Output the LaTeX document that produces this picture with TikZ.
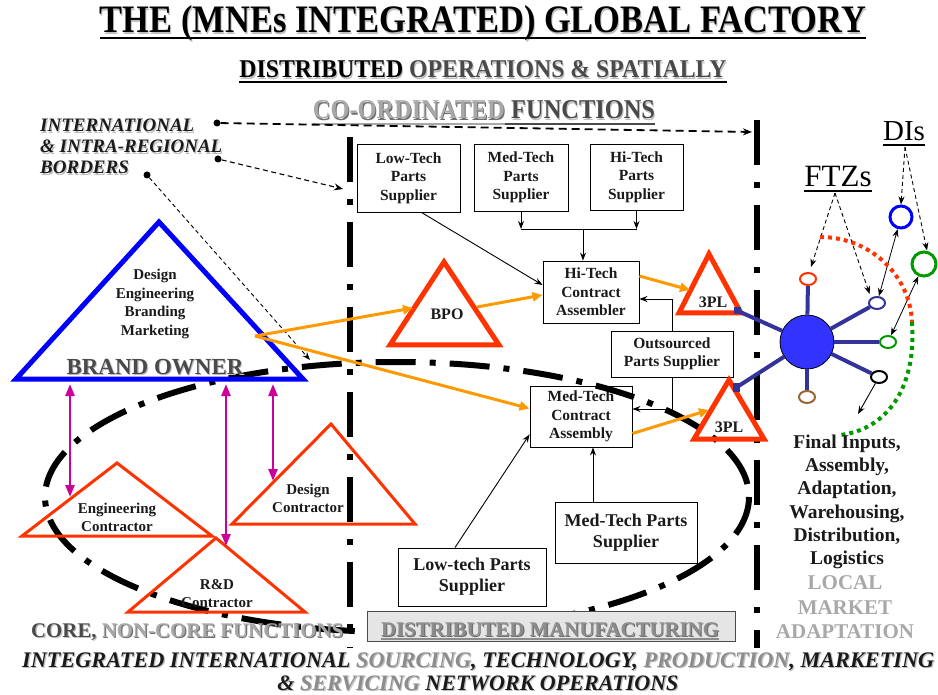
\documentclass[tikz,border=0pt]{standalone}
\usepackage{fontspec}
\setmainfont{Liberation Serif}
\usepackage{graphicx}
\usetikzlibrary{arrows.meta,calc,shapes.geometric}
\definecolor{redo}{HTML}{FF3300}
\definecolor{orng}{HTML}{FF9900}
\definecolor{mag}{HTML}{CC0099}
\definecolor{hubblue}{HTML}{3333FF}
\definecolor{spokec}{HTML}{333399}
\definecolor{grn}{HTML}{009900}
\definecolor{brn}{HTML}{996633}
\definecolor{ltgray}{HTML}{A8A8A8}
\definecolor{midgray}{HTML}{8C8C8C}
\definecolor{dkgray}{HTML}{4A4A4A}
\definecolor{txtc}{HTML}{1A1A1A}
\definecolor{shgray}{HTML}{BEBEBE}
\definecolor{shdark}{HTML}{707070}
\newcommand{\shtx}[3]{\leavevmode\rlap{\kern1.1pt\raisebox{-1.1pt}{\textcolor{#2}{#3}}}\textcolor{#1}{#3}}
\tikzset{
  box/.style={draw=black, line width=0.9pt, fill=white, inner sep=0pt, align=center,
    font=\fontsize{15.5}{18.5}\selectfont\bfseries, text=txtc},
  bigbox/.style={box, font=\fontsize{18}{21}\selectfont\bfseries},
  tritext/.style={align=center, inner sep=0pt, font=\fontsize{15}{18.5}\selectfont\bfseries, text=txtc},
  redtri/.style={draw=redo, line width=5pt, line join=miter, miter limit=20},
  redtrithin/.style={draw=redo, line width=3pt, line join=miter, miter limit=20},
  bluetri/.style={draw=blue, line width=5pt, line join=miter, miter limit=20},
  vdash/.style={line width=6pt, dash pattern=on 45pt off 17pt on 6pt off 17pt},
  bigell/.style={line width=6pt, dash pattern=on 40pt off 14pt on 6pt off 14pt},
  arr/.style={line width=0.9pt, -{Stealth[length=8pt,width=6pt]}},
  oarr/.style={draw=orng, line width=3pt, -{Triangle[length=10pt,width=9pt]}},
  marr/.style={draw=mag, line width=2.5pt, {Triangle[length=12pt,width=9pt]}-{Triangle[length=12pt,width=9pt]}},
  dotn/.style={circle, fill=black, inner sep=0pt, minimum size=7pt},
  dsh/.style={line width=0.9pt, dash pattern=on 4pt off 3pt, -{Stealth[length=8pt,width=6pt]}},
  darr/.style={line width=0.8pt, {Stealth[length=8pt,width=6pt]}-{Stealth[length=8pt,width=6pt]}},
  spk/.style={draw=spokec, line width=4pt},
  smallc/.style={ellipse, fill=white, line width=2pt, minimum width=16pt, minimum height=12pt, inner sep=0pt},
  lbl/.style={anchor=base west, inner sep=0pt, font=\fontsize{19}{21}\selectfont\bfseries\itshape},
}
\begin{document}
\begin{tikzpicture}[x=1pt,y=-1pt]
\useasboundingbox (0,0) rectangle (938,695);

% ---------- titles
\node[anchor=base, inner sep=0pt] (title) at (483,33)
  {\resizebox{766pt}{27pt}{\fontsize{40}{40}\selectfont\bfseries\shtx{black}{shgray}{THE (MNEs INTEGRATED) GLOBAL FACTORY}}};
\draw[line width=2pt] ($(title.base west)+(0,5)$) -- ($(title.base east)+(0,5)$);
\node[anchor=base, inner sep=0pt] (sub) at (483,78)
  {\resizebox{487pt}{17pt}{\fontsize{26}{26}\selectfont\bfseries\shtx{black}{shgray}{DISTRIBUTED} \shtx{dkgray}{shgray}{OPERATIONS \& SPATIALLY}}};
\draw[line width=1.5pt] ($(sub.base west)+(0,4)$) -- ($(sub.base east)+(0,4)$);
\node[anchor=base, inner sep=0pt] (coord) at (484,119)
  {\resizebox{342pt}{18pt}{\fontsize{27}{27}\selectfont\bfseries\shtx{ltgray}{shdark}{CO-ORDINATED} \shtx{dkgray}{shgray}{FUNCTIONS}}};
\draw[line width=1.5pt, ltgray] ($(coord.base west)+(0,5)$) -- ($(coord.base west)+(192,5)$);
\draw[line width=1.5pt, dkgray] ($(coord.base west)+(192,5)$) -- ($(coord.base east)+(0,5)$);

% ---------- border labels
\node[lbl] (l1) at (40,132) {\shtx{txtc}{shgray}{INTERNATIONAL}};
\node[lbl] (l2) at (40,153) {\shtx{txtc}{shgray}{\& INTRA-REGIONAL}};
\node[lbl] (l3) at (40,174) {\shtx{txtc}{shgray}{BORDERS}};
\node[dotn] (d1) at (217,123) {};
\node[dotn] (d2) at (218,159) {};
\node[dotn] (d3) at (147,175) {};
\coordinate (e1) at (752,132);
\coordinate (e2) at (343,189);
\coordinate (e3) at (310,360);

% ---------- vertical borders
\draw[vdash] (350,137) -- (350,648);
\draw[vdash] (757,120) -- (757,648);

\draw[line width=1.8pt, dash pattern=on 8pt off 5pt, -{Stealth[length=9pt,width=7pt]}] (d1) -- (e1);
\draw[line width=1.1pt, dash pattern=on 5pt off 3.5pt, -{Stealth[length=9pt,width=7pt]}] (d2) -- (e2);
\draw[dsh] (d3) -- (e3);

% ---------- boxes
\node[box, minimum width=103pt, minimum height=68pt] (lts) at (408.5,178) {Low-Tech\\Parts\\Supplier};
\node[box, minimum width=94pt, minimum height=67pt] (mts) at (521,177.5) {Med-Tech\\Parts\\Supplier};
\node[box, minimum width=93pt, minimum height=66pt] (hts) at (636.5,177) {Hi-Tech\\Parts\\Supplier};
\node[box, minimum width=96pt, minimum height=62pt] (hta) at (591,292) {Hi-Tech\\Contract\\Assembler};
\node[box, minimum width=122pt, minimum height=46pt] (ops) at (672,354) {Outsourced\\Parts Supplier};
\node[box, minimum width=102pt, minimum height=61pt] (mta) at (581,416.5) {Med-Tech\\Contract\\Assembly};
\node[bigbox, minimum width=148pt, minimum height=58pt] (lts2) at (472,577) {Low-tech Parts\\Supplier};
\node[bigbox, minimum width=142pt, minimum height=61pt] (mts2) at (626,532.5) {Med-Tech Parts\\Supplier};

% ---------- big dash-dot ellipse
\draw[bigell] (397,497) ellipse [x radius=352, y radius=135];

% ---------- box connectors
\coordinate (brk) at (583,229);
\draw[arr] (mts.south) -- (mts.south |- brk);
\draw[arr] (hts.south) -- (hts.south |- brk);
\draw[line width=0.9pt] (mts.south |- brk) -- (hts.south |- brk);
\draw[arr] (brk) -- (brk |- hta.north);
\draw[arr] ($(lts.south)+(13,0)$) -- ($(hta.west)+(0,-7)$);
\draw[arr] (ops.north) |- ($(hta.east)+(0,7)$);
\draw[arr] (ops.south) |- ($(mta.east)+(0,-7.5)$);
\draw[arr] ($(lts2.north)+(-17,0)$) -- ($(mta.south west)+(0,-13)$);
\draw[arr] ($(mts2.north)+(-33,0)$) -- ($(mta.south)+(12,0)$);

% ---------- brand owner
\draw[bluetri] (159,222) -- (16,379) -- (303,379) -- cycle;
\node[tritext] (bo) at (155,304) {Design\\Engineering\\Branding\\Marketing};
\node[anchor=base, inner sep=0pt, font=\fontsize{23}{23}\selectfont\bfseries] (bon) at (155,374)
  {\shtx{dkgray}{shgray}{BRAND OWNER}};

% ---------- contractors
\draw[redtrithin] (117,463) -- (22,536) -- (212,536) -- cycle;
\node[tritext] (ec) at (117,517.5) {Engineering\\Contractor};
\draw[redtrithin] (216,538) -- (128,612) -- (305,612) -- cycle;
\node[tritext] (rd) at (217,593.5) {R\&D\\Contractor};
\draw[redtrithin] (331,424) -- (232,524) -- (415,524) -- cycle;
\node[tritext] (dc) at (308,498.5) {Design\\Contractor};

\coordinate (m1a) at (70,384); \coordinate (m1b) at (70,497);
\coordinate (m2a) at (226,384); \coordinate (m2b) at (226,546);
\coordinate (m3a) at (273,384); \coordinate (m3b) at (273,481);
\draw[marr] (m1a) -- (m1b);
\draw[marr] (m2a) -- (m2b);
\draw[marr] (m3a) -- (m3b);

% ---------- BPO and 3PLs
\draw[redtri] (444,262) -- (390,345) -- (499,345) -- cycle;
\node[tritext, font=\fontsize{16}{16}\selectfont\bfseries] (bpo) at (447,314) {BPO};
\draw[redtri] (709,254) -- (679,313) -- (741,313) -- cycle;
\node[tritext, font=\fontsize{16}{16}\selectfont\bfseries] (tpa) at (713,302) {3PL};
\draw[redtri] (729,380) -- (694,439) -- (764,439) -- cycle;
\node[tritext, font=\fontsize{16}{16}\selectfont\bfseries] (tpb) at (729,427) {3PL};

% ---------- orange flows
\coordinate (bop) at (255,336);
\coordinate (bpoL) at (413,308);
\coordinate (bpoR) at (477,307);
\coordinate (tpaL) at (690,290);
\coordinate (tpbL) at (709,410);
\draw[oarr] (bop) -- (bpoL);
\draw[oarr] (bpoR) -- ($(hta.west)+(0,3)$);
\draw[oarr] (bop) -- ($(mta.west)+(0,-8)$);
\draw[oarr] ($(hta.east)+(0,-16)$) -- (tpaL);
\draw[oarr] ($(mta.east)+(0,17)$) -- (tpbL);

% ---------- hub
\node[circle, fill=hubblue, draw=black, line width=0.8pt, minimum size=54pt, inner sep=0pt] (hub) at (807,342) {};
\node[smallc, draw=redo] (fr) at (808,279) {};
\node[smallc, draw=spokec] (fb) at (877,303) {};
\node[smallc, draw=grn] (fg) at (888,342) {};
\node[smallc, draw=black] (fk) at (879,377) {};
\node[smallc, draw=brn] (fn) at (807,397) {};
\coordinate (s1) at (738,311);
\coordinate (s2) at (737,387);
\draw[spk] (hub) -- (s1);
\draw[spk] (hub) -- (s2);
\fill[spokec] (734,307) rectangle (741,314);
\fill[spokec] (733,383) rectangle (740,392);
\draw[spk] (hub) -- (fr);
\draw[spk] (hub) -- (fb);
\draw[spk] (hub) -- (fg);
\draw[spk] (hub) -- (fk);
\draw[spk] (hub) -- (fn);

\node[circle, draw=blue, line width=3pt, minimum size=22pt, inner sep=0pt] (dib) at (901,217) {};
\node[circle, draw=grn, line width=3pt, minimum size=24pt, inner sep=0pt] (dig) at (924,264) {};

\node[anchor=base, inner sep=0pt, font=\fontsize{31}{31}\selectfont] (ftz) at (838,187) {FTZs};
\draw[line width=1.5pt] ($(ftz.base west)+(0,4)$) -- ($(ftz.base east)+(0,4)$);
\node[anchor=base, inner sep=0pt, font=\fontsize{29}{29}\selectfont] (dis) at (904,141) {DIs};
\draw[line width=1.5pt] ($(dis.base west)+(0,4)$) -- ($(dis.base east)+(0,4)$);

\coordinate (ftzs) at ($(ftz.base)+(-3,6)$);
\coordinate (diss) at ($(dis.base)+(1,6)$);
\draw[dsh] (ftzs) -- ($(fr.north)+(3,-5)$);
\draw[dsh] (ftzs) -- ($(fb.north west)+(-1,-4)$);
\draw[dsh] (diss) -- (dib.north);
\draw[dsh] (diss) -- ($(dig.north)+(3,0)$);
\draw[darr] (dib) -- (fb);
\draw[darr] (dig) -- (fg);
\coordinate (fkend) at (858,414);
\draw[arr] (fk) -- (fkend);

\draw[redo, line width=4pt, dash pattern=on 4pt off 4pt] (820,237) .. controls (870,237) and (910,275) .. (912,322);
\draw[grn, line width=4pt, dash pattern=on 4pt off 4pt] (912,322) .. controls (917,390) and (885,430) .. (840,435);

\node[align=center, inner sep=0pt, font=\fontsize{19.5}{23.3}\selectfont\bfseries, text=txtc] (fin) at (847,502)
  {Final Inputs,\\Assembly,\\Adaptation,\\Warehousing,\\Distribution,\\Logistics};
\node[align=center, inner sep=0pt, font=\fontsize{21}{24.5}\selectfont\bfseries, text=ltgray] (lma) at (845,607.5)
  {LOCAL\\MARKET\\ADAPTATION};

% ---------- bottom
\node[draw=dkgray, fill=black!10, line width=0.9pt, minimum width=368pt, minimum height=30pt, inner sep=0pt] (dm) at (551,626) {};
\node[anchor=base, inner sep=0pt] (dmt) at (550,636)
  {\resizebox{338pt}{!}{\fontsize{20}{20}\selectfont\bfseries\shtx{midgray}{shdark}{DISTRIBUTED MANUFACTURING}}};
\draw[line width=1.2pt, midgray] ($(dmt.base west)+(0,3)$) -- ($(dmt.base east)+(0,3)$);

\node[anchor=base west, inner sep=0pt] (core) at (31,637)
  {\resizebox{312pt}{!}{\fontsize{20}{20}\selectfont\bfseries\shtx{dkgray}{shgray}{CORE,} \shtx{ltgray}{shdark}{NON-CORE FUNCTIONS}}};
\node[anchor=base west, inner sep=0pt] (bl1) at (22,667)
  {\resizebox{912pt}{!}{\fontsize{20}{20}\selectfont\bfseries\itshape\shtx{txtc}{shgray}{INTEGRATED INTERNATIONAL} \shtx{midgray}{shgray}{SOURCING}\shtx{txtc}{shgray}{, TECHNOLOGY,} \shtx{midgray}{shgray}{PRODUCTION}\shtx{txtc}{shgray}{, MARKETING}}};
\node[anchor=base, inner sep=0pt] (bl2) at (478,690)
  {\resizebox{401pt}{!}{\fontsize{20}{20}\selectfont\bfseries\itshape\shtx{txtc}{shgray}{\&} \shtx{midgray}{shgray}{SERVICING} \shtx{txtc}{shgray}{NETWORK OPERATIONS}}};
\end{tikzpicture}
\end{document}
